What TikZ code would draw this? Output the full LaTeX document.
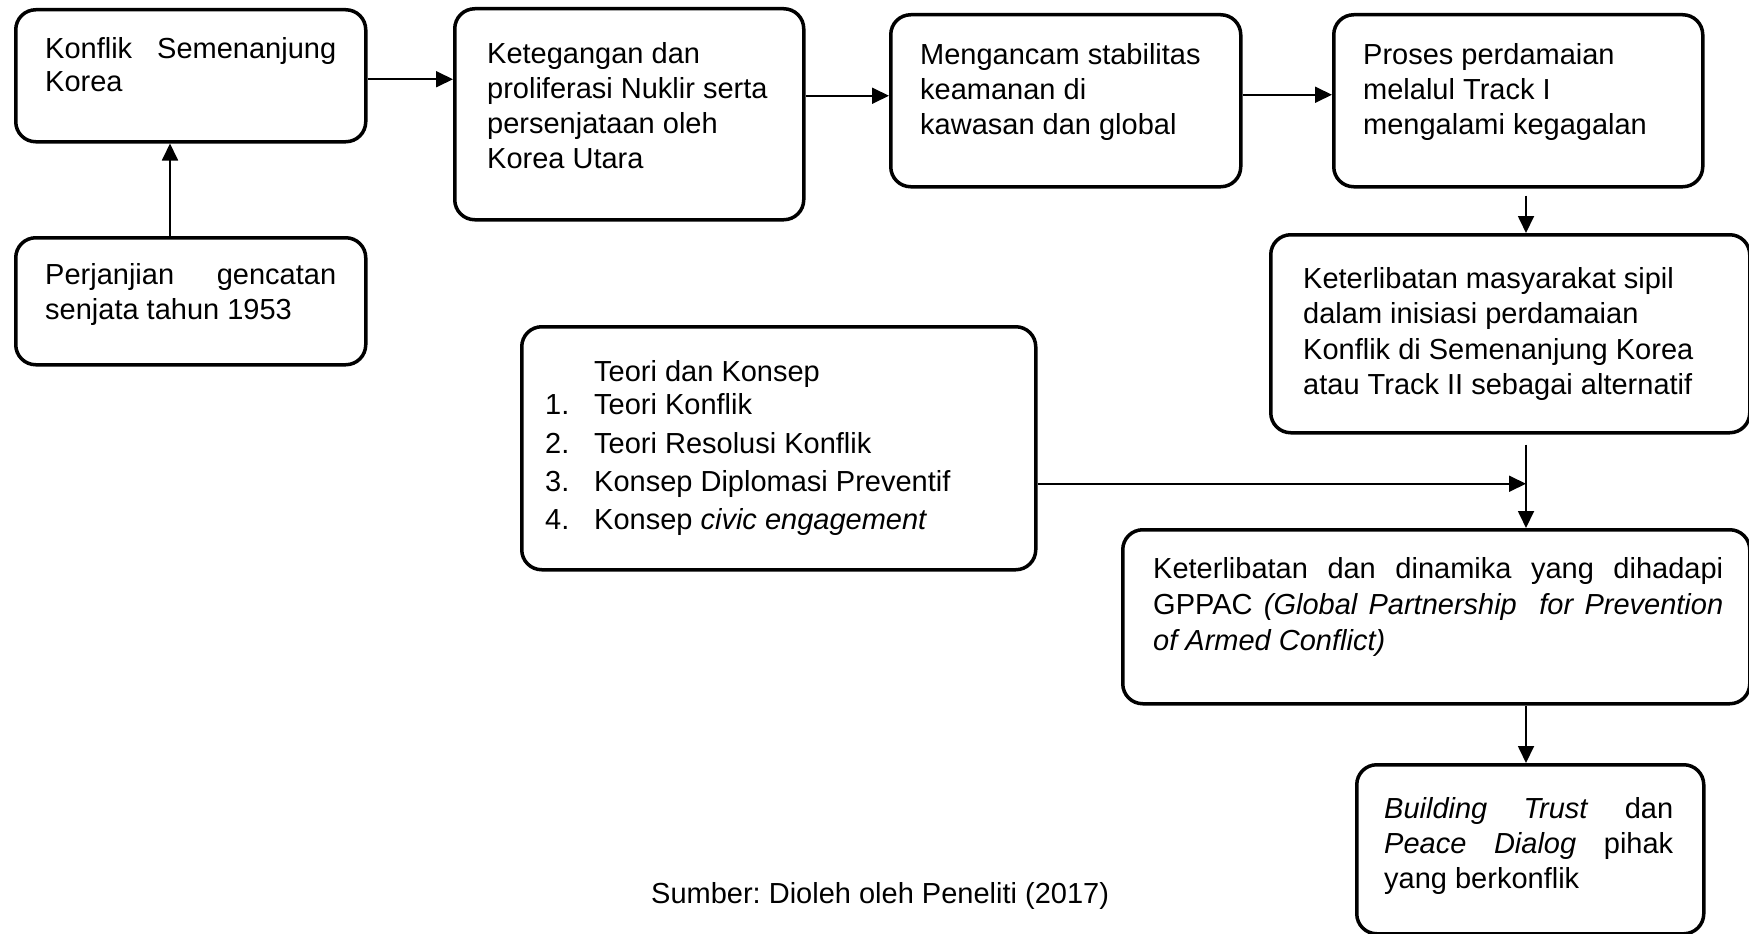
\documentclass[tikz,border=0pt]{standalone}
\usepackage{fontspec}
\setmainfont{Liberation Sans}
\usetikzlibrary{arrows.meta,calc}
\hyphenpenalty=10000
\exhyphenpenalty=10000
\frenchspacing
\begin{document}
\begin{tikzpicture}[x=1pt,y=-1pt,
  box/.style={draw, line width=3.5pt, rounded corners=20pt, inner sep=0pt, anchor=north west},
  txt/.style={anchor=north west, inner sep=0pt, font=\fontsize{29}{35}\selectfont, align=left},
  jtxt/.style={txt, align=justify},
  arr/.style={line width=1.8pt, -{Triangle[length=17pt,width=16pt]}}]
\useasboundingbox (0,0) rectangle (1749,934);

% boxes
\node[box, minimum width=350pt, minimum height=132pt] (A) at (14,8) {};
\node[box, minimum width=350pt, minimum height=127pt] (B) at (14,236) {};
\node[box, minimum width=349pt, minimum height=211pt] (C) at (453,7) {};
\node[box, minimum width=350pt, minimum height=172pt] (D) at (889,13) {};
\node[box, minimum width=369pt, minimum height=172pt] (E) at (1332,13) {};
\node[box, minimum width=479pt, minimum height=198pt] (F) at (1269,233) {};
\node[box, minimum width=514pt, minimum height=243pt] (G) at (520,325) {};
\node[box, minimum width=627pt, minimum height=174pt] (H) at (1121,528) {};
\node[box, minimum width=347pt, minimum height=169pt] (I) at (1355,763) {};

% texts
\node[jtxt, text width=291pt, font=\fontsize{29}{33}\selectfont] (At) at (45,37)
  {Konflik Semenanjung\linebreak Korea};
\node[jtxt, text width=291pt, font=\fontsize{29}{35}\selectfont] (Bt) at (45,263)
  {Perjanjian gencatan\linebreak senjata tahun 1953};
\node[txt] (Ct) at (487,42)
  {Ketegangan dan\\proliferasi Nuklir serta\\persenjataan oleh\\Korea Utara};
\node[txt] (Dt) at (920,43)
  {Mengancam stabilitas\\keamanan di\\kawasan dan global};
\node[txt] (Et) at (1363,43)
  {Proses perdamaian\\melalul Track I\\mengalami kegagalan};
\node[txt, font=\fontsize{29}{35.5}\selectfont] (Ft) at (1303,267)
  {Keterlibatan masyarakat sipil\\dalam inisiasi perdamaian\\Konflik di Semenanjung Korea\\atau Track II sebagai alternatif};
\node[txt, font=\fontsize{29}{33}\selectfont] (Gt) at (545,360)
  {\hspace*{49pt}Teori dan Konsep\\[0pt]
   \makebox[49pt][l]{1.}Teori Konflik\\[6pt]
   \makebox[49pt][l]{2.}Teori Resolusi Konflik\\[5pt]
   \makebox[49pt][l]{3.}Konsep Diplomasi Preventif\\[5pt]
   \makebox[49pt][l]{4.}Konsep \textit{civic engagement}};
\node[jtxt, text width=570pt, font=\fontsize{29}{36}\selectfont] (Ht) at (1153,557)
  {Keterlibatan dan dinamika yang dihadapi\linebreak
   GPPAC \textit{(Global Partnership\ \ for Prevention}\linebreak
   \textit{of Armed Conflict)}};
\node[jtxt, text width=289pt, font=\fontsize{29}{35}\selectfont] (It) at (1384,797)
  {\textit{Building Trust} dan\linebreak \textit{Peace Dialog} pihak\linebreak yang berkonflik};
\node[txt] (cap) at (651,882) {Sumber: Dioleh oleh Peneliti (2017)};

% connector columns
\coordinate (c1) at (170,0);
\coordinate (c2) at (1526,0);

% connectors
\draw[arr] (B.north -| c1) -- (A.south -| c1);
\draw[arr] ([yshift=-3.5pt]A.east) -- ([yshift=-3.5pt]A.east -| C.west);
\draw[arr] ([yshift=5pt]C.east |- D.west) -- ([yshift=5pt]D.west);
\draw[arr] ([yshift=6pt]D.east) -- ([yshift=6pt]D.east -| E.west);
\draw[arr] ([yshift=-7pt]E.south -| c2) -- (F.north -| c2);
\draw[arr] ([yshift=-10pt]F.south -| c2) -- (H.north -| c2);
\draw[arr] ([yshift=-35.5pt]G.east) -- ([yshift=-35.5pt]G.east -| c2);
\draw[arr] (H.south -| c2) -- (I.north -| c2);
\end{tikzpicture}
\end{document}
